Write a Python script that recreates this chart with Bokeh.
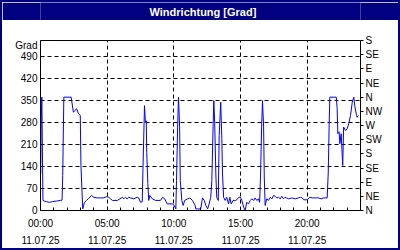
from bokeh.plotting import figure
from bokeh.models import LinearAxis, FixedTicker, Range1d, Grid
from bokeh.layouts import column
from bokeh.embed import file_html
from bokeh.resources import INLINE
from bokeh.core.properties import value

TITLE = "Windrichtung [Grad]"
UNIT = "Grad"

# time of measurement in minutes after 00:00 on 11.07.25
minutes = [1, 3, 6, 11, 16, 27, 40, 54, 72, 90, 97, 100, 105, 138, 148, 155, 163, 171, 179, 182,
           190, 198, 207, 216, 231, 238, 256, 270, 283, 297, 307, 315, 324, 346, 369, 375, 382, 390,
           397, 405, 420, 435, 442, 450, 458, 460, 468, 472, 476, 478, 483, 487, 492, 503, 518, 540,
           550, 559, 570, 593, 602, 609, 612, 617, 621, 626, 629, 636, 642, 649, 662, 672, 684, 696,
           699, 721, 729, 737, 744, 752, 759, 766, 771, 777, 780, 784, 789, 793, 800, 804, 811, 816,
           819, 824, 831, 838, 846, 852, 858, 867, 879, 894, 900, 906, 914, 921, 928, 936, 944, 951,
           959, 966, 973, 981, 986, 990, 995, 999, 1004, 1007, 1011, 1018, 1026, 1034, 1041, 1049,
           1056, 1063, 1071, 1079, 1086, 1094, 1101, 1108, 1116, 1131, 1146, 1161, 1170, 1178, 1185,
           1200, 1212, 1223, 1238, 1252, 1263, 1275, 1290, 1295, 1299, 1302, 1331, 1335, 1338, 1344,
           1347, 1353, 1360, 1364, 1373, 1380, 1387, 1395, 1403, 1410, 1414, 1422, 1425, 1430]
# wind direction in degrees
degrees = [116, 275, 360, 32, 30, 28, 26, 28, 30, 32, 33, 111, 360, 360, 312, 318, 323, 307, 302, 143,
           5, 26, 32, 38, 48, 42, 40, 40, 40, 44, 42, 37, 32, 32, 42, 37, 42, 37,
           42, 40, 37, 42, 40, 26, 28, 100, 333, 280, 285, 185, 85, 32, 48, 37, 32, 32,
           42, 37, 21, 21, 16, 5, 95, 265, 360, 265, 95, 32, 16, 32, 37, 40, 32, 16,
           5, 5, 40, 32, 16, 5, 21, 42, 95, 275, 349, 275, 116, 42, 32, 238, 344, 228,
           116, 42, 32, 42, 21, 42, 21, 32, 32, 42, 42, 32, 11, 0, 26, 21, 32, 37,
           32, 40, 32, 37, 26, 106, 265, 349, 265, 106, 16, 37, 32, 42, 37, 48,
           45, 40, 42, 37, 45, 37, 42, 40, 37, 40, 37, 40, 42, 40, 34,
           34, 42, 40, 40, 40, 37, 40, 40, 122, 275, 360, 360, 323, 244, 250,
           212, 244, 143, 265, 254, 260, 275, 302, 344, 360, 333, 302, 296, 302]

deg_ticks = [0, 70, 140, 210, 280, 350, 420, 490]
unit_tick = 525
compass_ticks = [0, 45, 90, 135, 180, 225, 270, 315, 360, 405, 450, 495, 540]
compass_labels = ["N", "NE", "E", "SE", "S", "SW", "W", "NW", "N", "NE", "E", "SE", "S"]
hour_ticks = [0, 300, 600, 900, 1200]
time_labels = ["00:00", "05:00", "10:00", "15:00", "20:00"]
date_labels = ["11.07.25", "11.07.25", "11.07.25", "11.07.25", "11.07.25"]
hour_minor = list(range(0, 1441, 60))

NAVY = "#000080"
FONT = "Liberation Sans"
FS = "10px"

# title bar
t = figure(width=396, height=18, x_range=Range1d(0, 396), y_range=Range1d(0, 18),
           output_backend="svg", toolbar_location=None, x_axis_location=None, y_axis_location=None,
           min_border=0, background_fill_color=NAVY, border_fill_color=NAVY, outline_line_color=None)
t.grid.visible = False
t.text(x=[201], y=[9], text=[TITLE], text_color="white", text_font=value(FONT),
       text_font_size="11px", text_font_style="bold", text_align="center", text_baseline="middle")

p = figure(width=396, height=228, x_range=Range1d(0, 1440), y_range=Range1d(0, 540),
           output_backend="svg", toolbar_location=None, x_axis_location=None, y_axis_location=None,
           min_border_left=38, min_border_right=38, min_border_top=20, min_border_bottom=38,
           background_fill_color="white", border_fill_color="white", outline_line_color="black")
p.grid.visible = False

for dim, ticks in ((1, deg_ticks[1:]), (0, hour_ticks[1:])):
    g = Grid(dimension=dim, ticker=FixedTicker(ticks=ticks), grid_line_color="black",
             grid_line_dash="4 3", grid_line_width=1)
    p.add_layout(g, "center")

def style(ax):
    ax.axis_line_color = "black"
    ax.major_label_text_font = FONT
    ax.major_label_text_font_size = FS
    ax.major_label_text_color = "black"
    ax.major_tick_line_color = "black"
    ax.minor_tick_line_color = "black"

left = LinearAxis(ticker=FixedTicker(ticks=deg_ticks + [unit_tick]),
                  major_label_overrides={unit_tick: UNIT})
style(left)
left.major_tick_in = 0
left.major_tick_out = 0
left.major_label_standoff = 3
p.add_layout(left, "left")

right = LinearAxis(ticker=FixedTicker(ticks=compass_ticks),
                   major_label_overrides=dict(zip(compass_ticks, compass_labels)))
style(right)
right.major_tick_in = 0
right.major_tick_out = 3
right.major_label_standoff = 2
p.add_layout(right, "right")

bottom = LinearAxis(ticker=FixedTicker(ticks=hour_ticks, minor_ticks=hour_minor),
                    major_label_overrides=dict(zip(hour_ticks, time_labels)))
style(bottom)
bottom.major_tick_in = 3
bottom.major_tick_out = 0
bottom.minor_tick_in = 3
bottom.minor_tick_out = 0
bottom.major_label_standoff = 7
p.add_layout(bottom, "below")

dates = LinearAxis(ticker=FixedTicker(ticks=hour_ticks),
                   major_label_overrides=dict(zip(hour_ticks, date_labels)))
style(dates)
dates.axis_line_color = None
dates.major_tick_line_color = None
dates.minor_tick_line_color = None
dates.major_tick_in = 0
dates.major_tick_out = 0
dates.major_label_standoff = 4
p.add_layout(dates, "below")

p.line(minutes, degrees, line_color="#0000FF", line_width=1)

layout = column(t, p, spacing=0, styles={"border": "2px solid " + NAVY, "background-color": "white"})

open("out.html", "w").write(file_html(layout, INLINE))
